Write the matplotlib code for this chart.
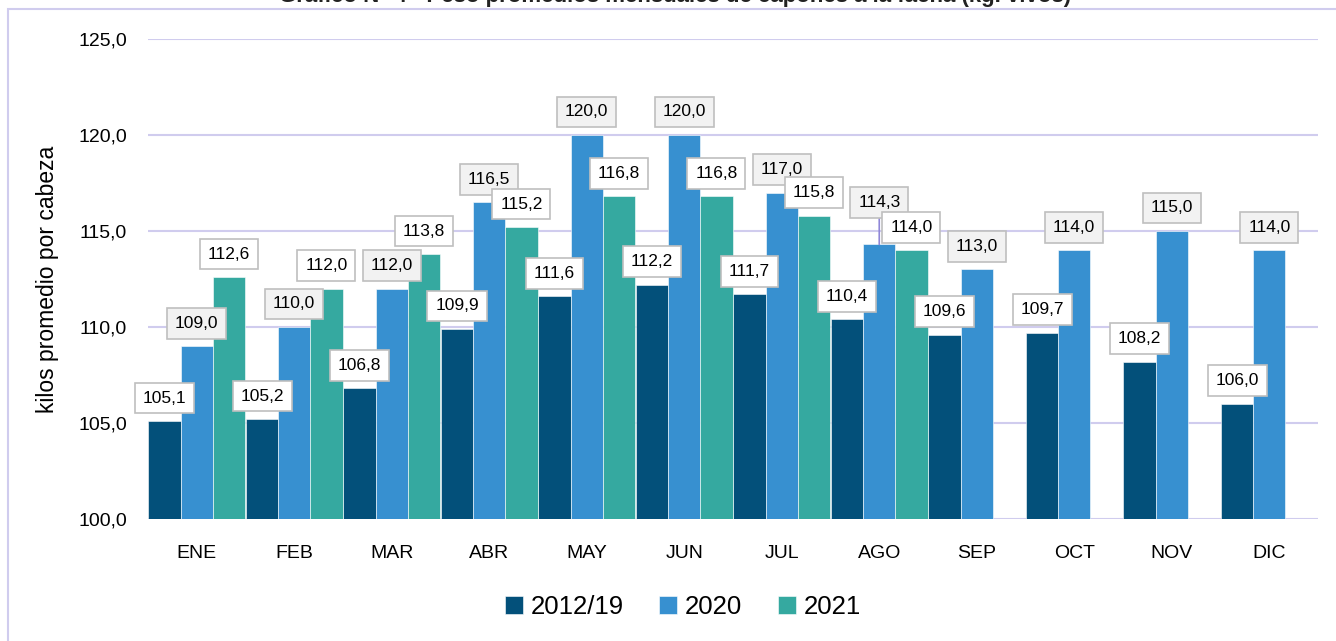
import matplotlib.pyplot as plt
import matplotlib.patches as mpatches
import numpy as np

plt.rcParams['font.family'] = ['Liberation Sans', 'DejaVu Sans']

months = ['ENE', 'FEB', 'MAR', 'ABR', 'MAY', 'JUN', 'JUL', 'AGO', 'SEP', 'OCT', 'NOV', 'DIC']
prom_2012_19 = [105.1, 105.2, 106.8, 109.9, 111.6, 112.2, 111.7, 110.4, 109.6, 109.7, 108.2, 106.0]
val_2020 = [109.0, 110.0, 112.0, 116.5, 120.0, 120.0, 117.0, 114.3, 113.0, 114.0, 115.0, 114.0]
val_2021 = [112.6, 112.0, 113.8, 115.2, 116.8, 116.8, 115.8, 114.0]
series_names = ['2012/19', '2020', '2021']
colors = ['#03507A', '#3790D0', '#35A9A0']
yticks = [100, 105, 110, 115, 120, 125]
title = 'Gráfico N° 4 - Peso promedios mensuales de capones a la faena (kg. vivos)'

fig = plt.figure(figsize=(13.36, 6.41), dpi=100)
ax = fig.add_axes([148 / 1336, 1 - 519 / 641, 1170 / 1336, 480 / 641])

# frame around the chart
fig.patches.append(mpatches.Rectangle((8 / 1336, -0.05), 1.2, 1 - 9 / 641 + 0.05,
                                      transform=fig.transFigure, fill=False,
                                      edgecolor='#D0CCEE', lw=1.5))
fig.text(0.505, 1 - 2 / 641, title, ha='center', va='baseline', fontsize=16,
         fontweight='bold', color='#222222')

x = np.arange(len(months))
w = 0.33
all_series = [prom_2012_19, val_2020, val_2021]
for i, (vals, c) in enumerate(zip(all_series, colors)):
    xs = x[:len(vals)] + (i - 1) * w
    ax.bar(xs, np.array(vals) - 100, bottom=100, width=w, color=c,
           edgecolor='white', linewidth=0.4, zorder=3, label=series_names[i])
    face = '#F2F2F2' if i == 1 else 'white'
    for xi, v in zip(xs, vals):
        lbl = f'{v:.1f}'.replace('.', ',')
        bb = dict(boxstyle='square,pad=0.45', fc=face, ec='#BFBFBF', lw=1.2)
        if i == 1 and months[int(round(xi))] == 'AGO':
            ax.annotate(lbl, xy=(xi, v), xytext=(0, 42), textcoords='offset pixels',
                        ha='center', va='center', fontsize=12.5, bbox=bb, zorder=5,
                        arrowprops=dict(arrowstyle='-', color='#8F86D8', lw=1.2,
                                        shrinkA=0, shrinkB=0))
        else:
            ax.annotate(lbl, xy=(xi, v), xytext=(0, 23), textcoords='offset pixels',
                        ha='center', va='center', fontsize=12.5, bbox=bb, zorder=6)

ax.set_xlim(-0.5, 11.5)
ax.set_ylim(100, 125)
ax.set_xticks(x)
ax.set_xticklabels(months, fontsize=14)
ax.set_yticks(yticks)
ax.set_yticklabels([f'{t:.1f}'.replace('.', ',') for t in yticks], fontsize=14)
ax.tick_params(axis='x', length=0, pad=19)
ax.tick_params(axis='y', length=0, pad=15)
ax.yaxis.grid(True, color='#D0CCEE', lw=1.5, zorder=0)
ax.set_axisbelow(True)
for s in ax.spines.values():
    s.set_visible(False)
ax.set_ylabel('kilos promedio por cabeza', fontsize=16.5, labelpad=14)

fig.legend(loc='center', bbox_to_anchor=(683 / 1336, 1 - 607 / 641), ncol=3,
           frameon=False, fontsize=18.5, handlelength=0.7, handleheight=0.7,
           handletextpad=0.3, columnspacing=1.4)

fig.savefig('out.png', dpi=100)
